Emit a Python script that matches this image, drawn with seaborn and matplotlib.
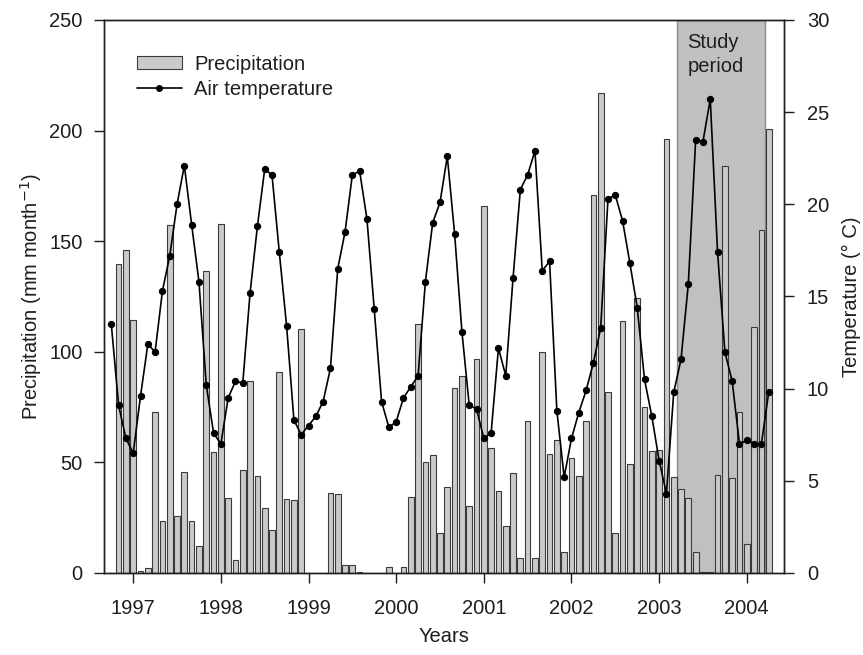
import numpy as np
import pandas as pd
import matplotlib
matplotlib.use("Agg")
import matplotlib.pyplot as plt
from matplotlib.patches import Patch
from matplotlib.lines import Line2D
import seaborn as sns

# Monthly record, October 1996 to April 2004 (month 0 = January 1997)
start_month = -3
precipitation = [
    0.0, 139.7, 146.2, 114.3,                                   # Oct-Dec 1996, Jan 1997
    0.8, 2.1, 72.9, 23.6, 157.3, 25.6, 45.6, 23.6, 12.4, 136.4, 54.7,   # Feb-Dec 1997
    157.9, 33.9, 5.7, 46.4, 86.6, 43.8, 29.5, 19.5, 90.8, 33.4, 32.9, 110.4,  # 1998
    0.0, 0.0, 0.0, 36.1, 35.5, 3.6, 3.6, 0.3, 0.0, 0.0, 0.0, 2.6,       # 1999
    0.0, 2.8, 34.5, 112.5, 50.1, 53.4, 18.1, 39.1, 83.8, 89.1, 30.4, 96.9,    # 2000
    165.7, 56.7, 37.1, 21.2, 45.3, 7.0, 68.7, 7.0, 99.8, 53.6, 59.9, 9.4,     # 2001
    51.8, 44.0, 68.5, 171.1, 217.0, 82.0, 17.9, 114.0, 49.3, 124.2, 75.0, 55.3,  # 2002
    55.8, 196.0, 43.6, 37.8, 33.9, 9.4, 0.5, 0.3, 44.3, 184.0, 43.1, 72.6,   # 2003
    13.0, 111.2, 155.1, 200.7,                                  # Jan-Apr 2004
]
air_temperature = [
    13.5, 9.1, 7.3, 6.5,
    9.6, 12.4, 12.0, 15.3, 17.2, 20.0, 22.1, 18.9, 15.8, 10.2, 7.6,
    7.0, 9.5, 10.4, 10.3, 15.2, 18.8, 21.9, 21.6, 17.4, 13.4, 8.3, 7.5,
    8.0, 8.5, 9.3, 11.1, 16.5, 18.5, 21.6, 21.8, 19.2, 14.3, 9.3, 7.9,
    8.2, 9.5, 10.1, 10.7, 15.8, 19.0, 20.1, 22.6, 18.4, 13.1, 9.1, 8.9,
    7.3, 7.6, 12.2, 10.7, 16.0, 20.8, 21.6, 22.9, 16.4, 16.9, 8.8, 5.2,
    7.3, 8.7, 9.9, 11.4, 13.3, 20.3, 20.5, 19.1, 16.8, 14.4, 10.5, 8.5,
    6.1, 4.3, 9.8, 11.6, 15.7, 23.5, 23.4, 25.7, 17.4, 12.0, 10.4, 7.0,
    7.2, 7.0, 7.0, 9.8,
]
year_labels = ["1997", "1998", "1999", "2000", "2001", "2002", "2003", "2004"]
study_period = (74.45, 86.5)

month = np.arange(start_month, start_month + len(precipitation))
df = pd.DataFrame({"month": month, "precipitation": precipitation,
                   "temperature": air_temperature})

sns.set_style("ticks")
plt.rcParams["font.family"] = ["Liberation Sans", "DejaVu Sans"]
plt.rcParams["axes.linewidth"] = 1.0

FS = 14.5
ink = "#1e1e1e"

fig = plt.figure(figsize=(8.63, 6.55), dpi=100)
ax = fig.add_axes([0.1205, 0.1252, 0.7880, 0.8443])
ax2 = ax.twinx()

bar_fill = "#cacaca"
bar_edge = "#3a3a3a"

ax.axvspan(*study_period, facecolor="#c0c0c0", edgecolor="#8a8a8a",
           linewidth=1.0, zorder=0)

sns.barplot(data=df, x="month", y="precipitation", ax=ax, native_scale=True,
            width=0.78, color=bar_fill, edgecolor=bar_edge, linewidth=0.8,
            saturation=1, zorder=2)

sns.lineplot(data=df, x="month", y="temperature", ax=ax2, color="black",
             linewidth=1.2, marker="o", markersize=4.5,
             markeredgecolor="black", markerfacecolor="black")

ax.set_xlim(-4.0, 89.1)
ax.set_ylim(0, 250)
ax2.set_ylim(0, 30)
ax.set_yticks(np.arange(0, 251, 50))
ax2.set_yticks(np.arange(0, 31, 5))
ax.set_xticks(np.arange(0, 12 * len(year_labels), 12))
ax.set_xticklabels(year_labels)

for a in (ax, ax2):
    a.tick_params(axis="both", direction="out", length=7.5, width=1.0,
                  labelsize=FS, colors=ink)
    for s in a.spines.values():
        s.set_visible(True)
        s.set_color(ink)
ax.tick_params(axis="x", pad=11)
ax.tick_params(axis="y", pad=8)
ax2.tick_params(axis="y", pad=9)

ax.set_xlabel("Years", fontsize=FS, labelpad=6.5, color=ink)
ax.set_ylabel("Precipitation (mm month$^{-1}$)", fontsize=FS, labelpad=4,
              color=ink)
ax2.set_ylabel("Temperature (° C)", fontsize=FS, labelpad=9, color=ink)

ax.text(75.9, 244.0, "Study\nperiod", fontsize=FS, va="top", ha="left",
        color=ink, linespacing=1.3)

handles = [
    Patch(facecolor=bar_fill, edgecolor=bar_edge, linewidth=0.8,
          label="Precipitation"),
    Line2D([0], [0], color="black", linewidth=1.2, marker="o", markersize=4,
           label="Air temperature"),
]
leg = ax2.legend(handles=handles, loc="upper left",
                 bbox_to_anchor=(0.048, 0.937), frameon=False, fontsize=FS,
                 handlelength=2.25, handleheight=0.6, handletextpad=0.6,
                 labelspacing=0.3, borderpad=0, borderaxespad=0)
for t in leg.get_texts():
    t.set_color(ink)

fig.savefig("out.png", dpi=100)
